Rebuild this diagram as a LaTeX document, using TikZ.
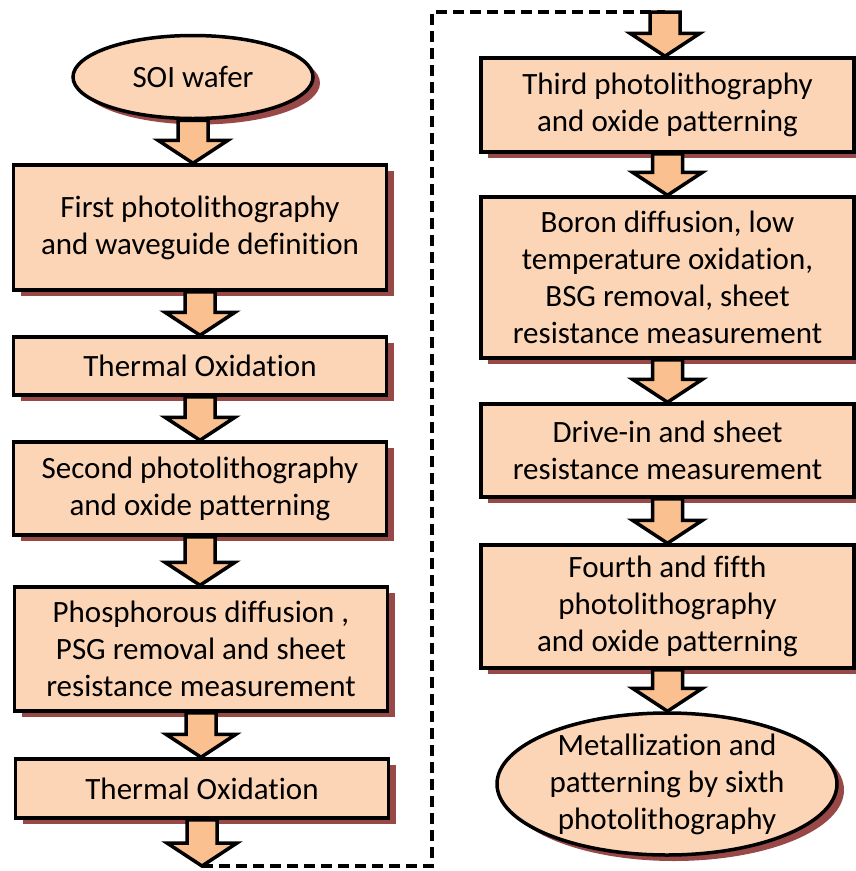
\documentclass[tikz,border=0pt]{standalone}
\usepackage{fontspec}
\setmainfont{Carlito}[Ligatures={NoCommon}]
\usetikzlibrary{shapes.geometric,shadows,calc}

\definecolor{boxfill}{RGB}{251,213,181}
\definecolor{arrowfill}{RGB}{250,192,143}
\definecolor{shadowred}{RGB}{135,40,40}

\tikzset{
  shadowed/.style={drop shadow={shadow xshift=7pt,shadow yshift=-6pt,fill=shadowred,opacity=0.85}},
  stepbox/.style={draw,line width=3.5pt,fill=boxfill,shadowed,minimum width=373pt,
    inner sep=0pt,align=center,font=\fontsize{31}{37}\selectfont},
  endcap/.style={ellipse,draw,line width=3.5pt,fill=boxfill,shadowed,inner sep=0pt,
    align=center,font=\fontsize{31}{37}\selectfont},
  blockarrow/.style={draw,line width=3.5pt,fill=arrowfill,line join=miter},
  loopline/.style={line width=4pt,dash pattern=on 11pt off 6pt}
}

% fat arrow from one point down to another
\newcommand\flowarrow[2]{%
  \draw[blockarrow] let \p1=#1, \p2=#2 in
    (\x1-15pt,\y1) -- (\x1+15pt,\y1) -- (\x1+15pt,\y2+23pt) -- (\x1+35pt,\y2+23pt)
    -- (\x1,\y2) -- (\x1-35pt,\y2+23pt) -- (\x1-15pt,\y2+23pt) -- cycle;}

\begin{document}
\begin{tikzpicture}[x=1pt,y=1pt]
  \useasboundingbox (0,0) rectangle (856,-871);

  % left column
  \node[endcap,minimum width=240pt,minimum height=83pt] (soi) at (193,-77) {SOI wafer};
  \node[stepbox,minimum height=125pt] (first) at (200,-227.5) {First photolithography\\and waveguide definition};
  \node[stepbox,minimum height=58pt] (oxone) at (200,-366) {Thermal Oxidation};
  \node[stepbox,minimum height=93pt] (second) at (200,-488.5) {Second photolithography\\and oxide patterning};
  \node[stepbox,minimum height=124pt] (phos) at (201,-649) {Phosphorous diffusion ,\\PSG removal and sheet\\resistance measurement};
  \node[stepbox,minimum height=59pt] (oxtwo) at (202,-788.5) {Thermal Oxidation};
  \coordinate (loopstart) at (202,-866);

  % right column
  \coordinate (loopend) at (665,-12);
  \node[stepbox,minimum height=94pt] (third) at (667.5,-105) {Third photolithography\\and oxide patterning};
  \node[stepbox,minimum height=161pt] (boron) at (667.5,-277.5) {Boron diffusion, low\\temperature oxidation,\\BSG removal, sheet\\resistance measurement};
  \node[stepbox,minimum height=93pt] (drive) at (667.5,-450.5) {Drive-in and sheet\\resistance measurement};
  \node[stepbox,minimum height=123pt] (fourth) at (667.5,-606.5) {Fourth and fifth\\photolithography\\and oxide patterning};
  \node[endcap,minimum width=340pt,minimum height=142pt,
    label={[align=center,font=\fontsize{31}{37}\selectfont]center:{Metallization and\\patterning by sixth\\photolithography}}]
    (metal) at (667,-784) {};

  % dashed return line
  \draw[loopline] (loopstart) -- (432,-866) -- (432,-12) -- (loopend);

  \flowarrow{(soi.south)}{(first.north)}
  \flowarrow{(first.south)}{(oxone.north)}
  \flowarrow{(oxone.south)}{(second.north)}
  \flowarrow{(second.south)}{(phos.north)}
  \flowarrow{(phos.south)}{(oxtwo.north)}
  \flowarrow{(oxtwo.south)}{(loopstart)}
  \flowarrow{(loopend)}{(third.north)}
  \flowarrow{(third.south)}{(boron.north)}
  \flowarrow{(boron.south)}{(drive.north)}
  \flowarrow{(drive.south)}{(fourth.north)}
  \flowarrow{(fourth.south)}{(metal.north)}
\end{tikzpicture}
\end{document}
